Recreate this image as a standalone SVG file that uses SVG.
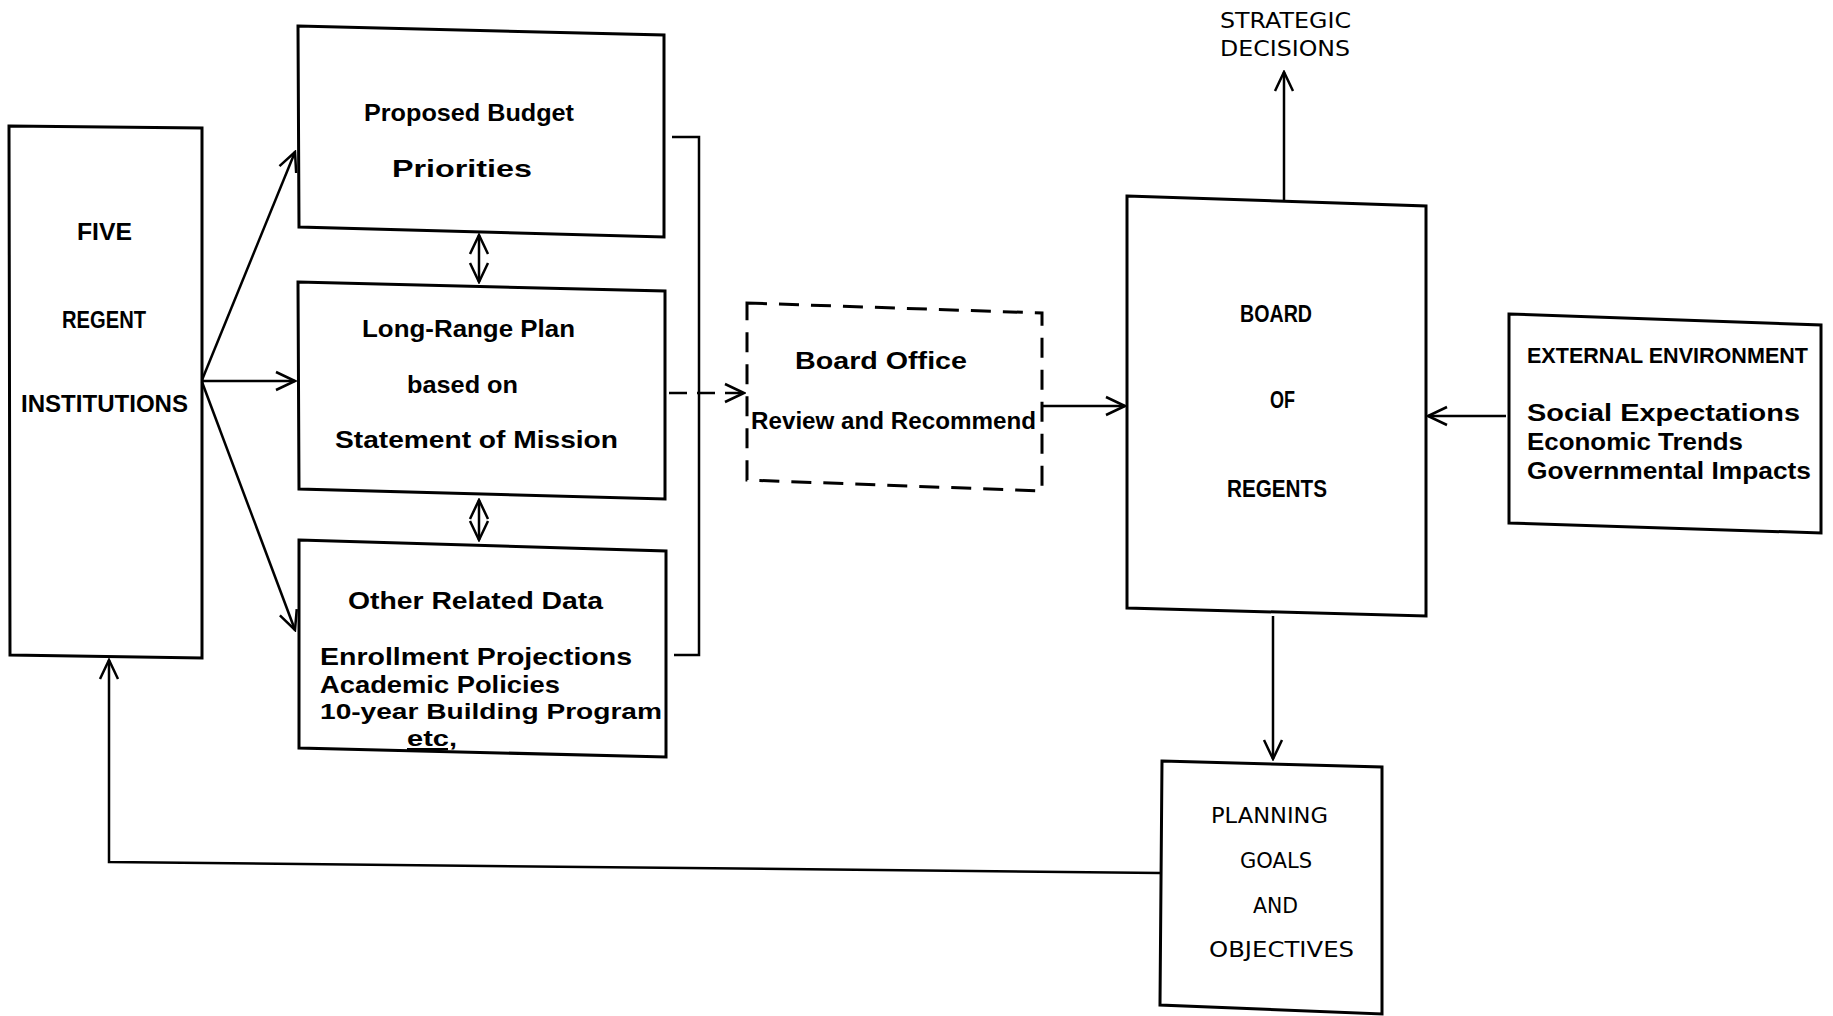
<svg xmlns="http://www.w3.org/2000/svg" width="1833" height="1016" viewBox="0 0 1833 1016">
<style>
.box{fill:none;stroke:#000;stroke-width:3;stroke-linejoin:miter}
.dbox{fill:none;stroke:#000;stroke-width:3;stroke-dasharray:20 12}
.con{fill:none;stroke:#000;stroke-width:2.5}
.t{font-family:"Liberation Sans","DejaVu Sans",sans-serif;font-weight:bold;font-size:24px;fill:#000}
.ts{font-family:"Liberation Sans","DejaVu Sans",sans-serif;font-weight:bold;font-size:22px;fill:#000}
.te{font-family:"Liberation Sans","DejaVu Sans",sans-serif;font-weight:bold;font-size:21.5px;fill:#000}
.tc{font-family:"Liberation Sans","DejaVu Sans",sans-serif;font-weight:bold;font-size:23px;fill:#000}
.tn{font-family:"DejaVu Sans","Liberation Sans",sans-serif;font-weight:normal;font-size:22px;fill:#000}
</style>
<defs>
<marker id="ah" viewBox="0 0 24 24" refX="22" refY="12" markerWidth="24" markerHeight="24" orient="auto-start-reverse" markerUnits="userSpaceOnUse">
<path d="M3,3 L22,12 L3,21" fill="none" stroke="#000" stroke-width="2.5"/>
</marker>
</defs>
<rect width="1833" height="1016" fill="#fff"/>

<g id="connectors">
<line class="con" x1="202" y1="380" x2="295" y2="152" marker-end="url(#ah)" stroke-width="3.5"/>
<line class="con" x1="202" y1="381" x2="295" y2="381" marker-end="url(#ah)"/>
<line class="con" x1="202" y1="382" x2="295" y2="630" marker-end="url(#ah)" stroke-width="3.5"/>
<line class="con" x1="479" y1="235" x2="479" y2="282" marker-start="url(#ah)" marker-end="url(#ah)" stroke-width="3"/>
<line class="con" x1="479" y1="500" x2="479" y2="540" marker-start="url(#ah)" marker-end="url(#ah)" stroke-width="3"/>
<polyline class="con" points="672,137 699,137 699,655 674,655" stroke-width="3"/>
<line class="con" x1="669" y1="393" x2="744" y2="393" stroke-dasharray="18 10" marker-end="url(#ah)"/>
<line class="con" x1="1042" y1="406" x2="1125" y2="406" marker-end="url(#ah)"/>
<line class="con" x1="1284" y1="201" x2="1284" y2="72" marker-end="url(#ah)"/>
<line class="con" x1="1506" y1="416" x2="1428" y2="416" marker-end="url(#ah)"/>
<line class="con" x1="1273" y1="616" x2="1273" y2="759" stroke-width="5" marker-end="url(#ah)"/>
<polyline class="con" points="1160,873 109,862 109,660" marker-end="url(#ah)"/>
</g>

<g id="five-regent">
<polygon class="box" points="9,126 202,128 202,658 10,655"/>
<text class="tc" x="77" y="240" textLength="55" lengthAdjust="spacingAndGlyphs">FIVE</text>
<text class="tc" x="62" y="328" textLength="84" lengthAdjust="spacingAndGlyphs">REGENT</text>
<text class="tc" x="21" y="412" textLength="167" lengthAdjust="spacingAndGlyphs">INSTITUTIONS</text>
</g>

<g id="proposed-budget">
<polygon class="box" points="298,26 664,35 664,237 299,227"/>
<text class="t" x="364" y="121" textLength="210" lengthAdjust="spacingAndGlyphs">Proposed Budget</text>
<text class="t" x="392" y="177" textLength="140" lengthAdjust="spacingAndGlyphs">Priorities</text>
</g>

<g id="long-range-plan">
<polygon class="box" points="298,282 665,291 665,499 299,489"/>
<text class="t" x="362" y="337" textLength="213" lengthAdjust="spacingAndGlyphs">Long-Range Plan</text>
<text class="t" x="407" y="393" textLength="111" lengthAdjust="spacingAndGlyphs">based on</text>
<text class="t" x="335" y="448" textLength="283" lengthAdjust="spacingAndGlyphs">Statement of Mission</text>
</g>

<g id="other-data">
<polygon class="box" points="299,540 666,551 666,757 299,748"/>
<text class="t" x="348" y="609" textLength="255" lengthAdjust="spacingAndGlyphs">Other Related Data</text>
<text class="t" x="320" y="665" textLength="312" lengthAdjust="spacingAndGlyphs">Enrollment Projections</text>
<text class="t" x="320" y="693" textLength="240" lengthAdjust="spacingAndGlyphs">Academic Policies</text>
<text class="ts" x="320" y="719" textLength="342" lengthAdjust="spacingAndGlyphs">10-year Building Program</text>
<text class="ts" x="407" y="746" textLength="50" lengthAdjust="spacingAndGlyphs" text-decoration="underline">etc,</text>
</g>

<g id="board-office">
<polygon class="dbox" points="747,303 1042,313 1042,491 747,480"/>
<text class="t" x="795" y="369" textLength="172" lengthAdjust="spacingAndGlyphs">Board Office</text>
<text class="t" x="751" y="429" textLength="285" lengthAdjust="spacingAndGlyphs">Review and Recommend</text>
</g>

<g id="strategic-decisions">
<text class="tn" x="1220" y="28" textLength="131" lengthAdjust="spacingAndGlyphs">STRATEGIC</text>
<text class="tn" x="1220" y="56" textLength="130" lengthAdjust="spacingAndGlyphs">DECISIONS</text>
</g>

<g id="board-of-regents">
<polygon class="box" points="1127,196 1426,206 1426,616 1127,608"/>
<text class="tc" x="1240" y="322" textLength="72" lengthAdjust="spacingAndGlyphs">BOARD</text>
<text class="tc" x="1270" y="408" textLength="25" lengthAdjust="spacingAndGlyphs">OF</text>
<text class="tc" x="1227" y="497" textLength="100" lengthAdjust="spacingAndGlyphs">REGENTS</text>
</g>

<g id="external-environment">
<polygon class="box" points="1509,314 1821,325 1821,533 1509,523"/>
<text class="te" x="1527" y="363" textLength="281" lengthAdjust="spacingAndGlyphs">EXTERNAL ENVIRONMENT</text>
<text class="t" x="1527" y="421" textLength="273" lengthAdjust="spacingAndGlyphs">Social Expectations</text>
<text class="t" x="1527" y="450" textLength="216" lengthAdjust="spacingAndGlyphs">Economic Trends</text>
<text class="t" x="1527" y="479" textLength="284" lengthAdjust="spacingAndGlyphs">Governmental Impacts</text>
</g>

<g id="planning-goals">
<polygon class="box" points="1162,761 1382,767 1382,1014 1160,1005"/>
<text class="tn" x="1211" y="823" textLength="117" lengthAdjust="spacingAndGlyphs">PLANNING</text>
<text class="tn" x="1240" y="868" textLength="72" lengthAdjust="spacingAndGlyphs">GOALS</text>
<text class="tn" x="1253" y="913" textLength="45" lengthAdjust="spacingAndGlyphs">AND</text>
<text class="tn" x="1209" y="957" textLength="145" lengthAdjust="spacingAndGlyphs">OBJECTIVES</text>
</g>
</svg>
